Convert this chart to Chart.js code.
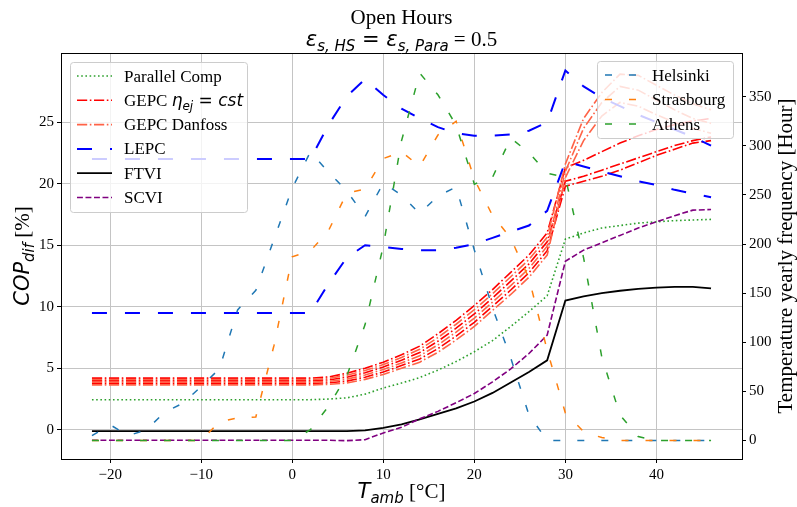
<!DOCTYPE html>
<html>
<head>
<meta charset="utf-8">
<script src="https://cdn.jsdelivr.net/npm/chart.js@4.4.0/dist/chart.umd.min.js"></script>
<style>
  body { margin: 0; background: #fff; }
  #wrap { width: 797px; height: 507px; }
</style>
</head>
<body>
<div id="wrap"><canvas id="chart" width="797" height="507"></canvas></div>
<script>
// ambient temperature samples [°C]
const temps = [-22,-20,-18,-16,-14,-12,-10,-8,-6,-4,-2,0,2,4,6,8,10,12,14,16,18,20,22,24,26,28,30,32,34,36,38,40,42,44,46];

// COP difference [%] (left axis)
const parallelComp = [2.45,2.45,2.45,2.45,2.45,2.45,2.45,2.45,2.45,2.45,2.45,2.45,2.45,2.5,2.6,2.9,3.4,3.8,4.25,4.85,5.55,6.35,7.25,8.4,9.6,10.9,15.5,16.0,16.4,16.6,16.8,16.9,17.0,17.05,17.1];
const gepcCst1 = [4.2,4.2,4.2,4.2,4.2,4.2,4.2,4.2,4.2,4.2,4.2,4.2,4.2,4.3,4.6,5.0,5.5,6.1,6.8,7.8,8.9,10.1,11.4,12.8,14.2,16.0,21.3,21.9,22.6,23.3,23.9,24.4,24.8,25.1,25.3];
const gepcCst2 = [3.98,3.98,3.98,3.98,3.98,3.98,3.98,3.98,3.98,3.98,3.98,3.98,3.98,4.06,4.28,4.64,5.1,5.66,6.28,7.2,8.26,9.42,10.72,12.08,13.48,15.28,20.2,20.6,21.1,21.6,22.1,22.6,23.1,23.5,23.8];
const gepcCst3 = [3.76,3.76,3.76,3.76,3.76,3.76,3.76,3.76,3.76,3.76,3.76,3.76,3.76,3.82,3.96,4.28,4.7,5.22,5.76,6.6,7.62,8.74,10.04,11.36,12.76,14.56,19.8,20.2,20.6,21.1,21.7,22.3,22.8,23.3,23.5];
const danfoss1 = [4.09,4.09,4.09,4.09,4.09,4.09,4.09,4.09,4.09,4.09,4.09,4.09,4.09,4.18,4.44,4.82,5.3,5.88,6.54,7.5,8.58,9.76,11.06,12.44,13.84,15.64,21.6,25.3,27.4,28.9,28.8,28.0,27.2,26.5,26.0];
const danfoss2 = [3.87,3.87,3.87,3.87,3.87,3.87,3.87,3.87,3.87,3.87,3.87,3.87,3.87,3.94,4.12,4.46,4.9,5.44,6.02,6.9,7.94,9.08,10.38,11.72,13.12,14.92,21.0,24.5,26.6,27.9,27.6,26.8,26.0,25.3,24.9];
const danfoss3 = [3.65,3.65,3.65,3.65,3.65,3.65,3.65,3.65,3.65,3.65,3.65,3.65,3.65,3.7,3.8,4.1,4.5,5.0,5.5,6.3,7.3,8.4,9.7,11.0,12.4,14.2,20.5,23.5,25.5,26.6,26.3,25.6,25.0,24.5,24.1];
const lepcUpper = [22,22,22,22,22,22,22,22,22,22,22,22,22,24.8,27.1,28.5,27.2,26.1,25.3,24.6,24.1,23.9,23.9,24.0,24.3,25.0,29.2,27.9,27.0,26.3,25.6,25.0,24.4,23.8,23.1];
const lepcLower = [9.5,9.5,9.5,9.5,9.5,9.5,9.5,9.5,9.5,9.5,9.5,9.5,9.5,11.9,14.0,15.0,14.85,14.7,14.6,14.6,14.8,15.1,15.6,16.1,16.6,17.8,21.8,21.4,21.0,20.6,20.2,19.9,19.5,19.2,18.9];
const ftvi = [-0.1,-0.1,-0.1,-0.1,-0.1,-0.1,-0.1,-0.1,-0.1,-0.1,-0.1,-0.1,-0.1,-0.1,-0.1,-0.05,0.15,0.45,0.85,1.3,1.75,2.3,3.0,3.85,4.7,5.65,10.5,10.85,11.1,11.3,11.45,11.55,11.62,11.62,11.5];
const scvi = [-0.85,-0.85,-0.85,-0.85,-0.85,-0.85,-0.85,-0.85,-0.85,-0.85,-0.85,-0.85,-0.85,-0.85,-0.88,-0.8,-0.25,0.2,0.9,1.5,2.2,2.95,3.9,4.95,6.2,7.7,13.7,14.6,15.2,15.8,16.4,16.9,17.4,17.85,17.9];

// temperature yearly frequency [hour] (right axis)
const helsinki = [5,16,5,11,29,38,55,73,133,153,205,257,294,273,254,228,262,250,231,249,258,194,135,84,26,0,0,0,0,0,0,0,0,0,0];
const strasbourg = [0,0,0,0,0,0,0,19,23,24,97,187,193,214,252,256,287,294,279,311,325,266,229,206,165,92,28,9,3,0,0,0,0,0,0];
const athens = [0,0,0,0,0,0,0,0,0,0,0,0,11,35,66,118,198,305,374,352,321,261,268,308,293,272,268,186,85,26,4,0,0,0,0];

// tick labels
const xTicks = [-20,-10,0,10,20,30,40];
const copTicks = [0,5,10,15,20,25];
const hourTicks = [0,50,100,150,200,250,300,350];

const SERIF = '"Liberation Serif", "Times New Roman", serif';
const SANS = '"DejaVu Sans", sans-serif';

const DOT = [1.6, 2.6];
const DASH = [5.9, 2.6];
const DASHDOT = [10.2, 2.6, 1.6, 2.6];
const LONGDASH = [15, 18];
const CITYDASH = [7, 17];

function line(label, vals, color, dash, axis, width) {
  return {
    label: label,
    data: temps.map((t, i) => ({ x: t, y: vals[i] })),
    yAxisID: axis,
    borderColor: color,
    borderDash: dash,
    borderWidth: width || 1.6,
    pointRadius: 0,
    fill: false,
    tension: 0
  };
}

const dsParallel = line('Parallel Comp', parallelComp, '#2ca02c', DOT, 'y');
const dsCst1 = line('GEPC cst', gepcCst1, '#ff0000', DASHDOT, 'y');
const dsCst2 = line('GEPC cst', gepcCst2, '#ff0000', DASHDOT, 'y');
const dsCst3 = line('GEPC cst', gepcCst3, '#ff0000', DASHDOT, 'y');
const dsDan1 = line('GEPC Danfoss', danfoss1, '#ff6347', DASHDOT, 'y');
const dsDan2 = line('GEPC Danfoss', danfoss2, '#ff6347', DASHDOT, 'y');
const dsDan3 = line('GEPC Danfoss', danfoss3, '#ff6347', DASHDOT, 'y');
const dsLepc1 = line('LEPC', lepcUpper, '#0000ff', LONGDASH, 'y', 2);
const dsLepc2 = line('LEPC', lepcLower, '#0000ff', LONGDASH, 'y', 2);
const dsFtvi = line('FTVI', ftvi, '#000000', [], 'y', 1.8);
const dsScvi = line('SCVI', scvi, '#800080', DASH, 'y');
const dsHel = line('Helsinki', helsinki, '#1f77b4', CITYDASH, 'y2', 1.5);
const dsStr = line('Strasbourg', strasbourg, '#ff7f0e', CITYDASH, 'y2', 1.5);
const dsAth = line('Athens', athens, '#2ca02c', CITYDASH, 'y2', 1.5);

const datasets = [dsParallel, dsCst1, dsCst2, dsCst3, dsDan1, dsDan2, dsDan3,
  dsLepc1, dsLepc2, dsFtvi, dsScvi, dsHel, dsStr, dsAth];
// later datasets on top, like matplotlib
datasets.forEach((d, i) => { d.order = -i; });

function fmt(v) { return v < 0 ? '\u2212' + Math.abs(v) : String(v); }

function drawRuns(ctx, runs, x, y, align) {
  let w = 0;
  const ws = runs.map(r => { ctx.font = r[1]; const m = ctx.measureText(r[0]).width; w += m; return m; });
  let cx = align === 'center' ? x - w / 2 : x;
  runs.forEach((r, i) => { ctx.font = r[1]; ctx.fillText(r[0], cx, y + (r[2] || 0)); cx += ws[i]; });
}

function drawLegend(ctx, box, items) {
  ctx.save();
  ctx.beginPath();
  if (ctx.roundRect) ctx.roundRect(box.x, box.y, box.w, box.h, 3);
  else ctx.rect(box.x, box.y, box.w, box.h);
  ctx.fillStyle = 'rgba(255,255,255,0.8)';
  ctx.fill();
  ctx.strokeStyle = '#cccccc';
  ctx.lineWidth = 1;
  ctx.stroke();
  items.forEach((it, i) => {
    const y = box.y0 + i * box.dy;
    ctx.setLineDash(it.ds.borderDash);
    ctx.strokeStyle = it.ds.borderColor;
    ctx.lineWidth = it.ds.borderWidth;
    ctx.beginPath();
    ctx.moveTo(box.hx0, y);
    ctx.lineTo(box.hx1, y);
    ctx.stroke();
    ctx.setLineDash([]);
    ctx.fillStyle = '#000';
    drawRuns(ctx, it.runs, box.tx, y + 5.5, 'left');
  });
  ctx.restore();
}

const decorations = {
  id: 'decorations',
  afterDraw(chart) {
    const ctx = chart.ctx, a = chart.chartArea;
    ctx.save();
    ctx.strokeStyle = '#000';
    ctx.lineWidth = 1;
    ctx.beginPath();
    ctx.moveTo(a.left, a.top + 0.5);
    ctx.lineTo(a.right, a.top + 0.5);
    ctx.stroke();

    ctx.fillStyle = '#000';
    ctx.textBaseline = 'alphabetic';
    const cx = (a.left + a.right) / 2;
    drawRuns(ctx, [['Open Hours', '21px ' + SERIF]], cx, 24, 'center');
    drawRuns(ctx, [
      ['\u03b5', 'italic 21px ' + SANS],
      ['s, HS', 'italic 15px ' + SANS, 4.5],
      [' = ', '21px ' + SANS],
      ['\u03b5', 'italic 21px ' + SANS],
      ['s, Para', 'italic 15px ' + SANS, 4.5],
      [' = 0.5', '21px ' + SERIF]
    ], cx, 46, 'center');

    drawRuns(ctx, [
      ['T', 'italic 21px ' + SANS],
      ['amb', 'italic 15px ' + SANS, 4.5],
      [' [\u00b0C]', '21px ' + SERIF]
    ], cx, 498, 'center');

    ctx.save();
    ctx.translate(29, (a.top + a.bottom) / 2);
    ctx.rotate(-Math.PI / 2);
    drawRuns(ctx, [
      ['COP', 'italic 21px ' + SANS],
      ['dif', 'italic 15px ' + SANS, 4.5],
      [' [%]', '21px ' + SERIF]
    ], 0, 0, 'center');
    ctx.restore();

    ctx.save();
    ctx.translate(792, (a.top + a.bottom) / 2);
    ctx.rotate(-Math.PI / 2);
    drawRuns(ctx, [['Temperature yearly frequency [Hour]', '21px ' + SERIF]], 0, 0, 'center');
    ctx.restore();

    const lf = '17px ' + SERIF;
    drawLegend(ctx, { x: 70.5, y: 62.5, w: 177, h: 150, y0: 76, dy: 24.3, hx0: 77, hx1: 112, tx: 124 }, [
      { ds: dsParallel, runs: [['Parallel Comp', lf]] },
      { ds: dsCst1, runs: [['GEPC ', lf], ['\u03b7', 'italic 17px ' + SANS], ['ej', 'italic 12px ' + SANS, 4], [' = ', '17px ' + SANS], ['cst', 'italic 17px ' + SANS]] },
      { ds: dsDan1, runs: [['GEPC Danfoss', lf]] },
      { ds: dsLepc1, runs: [['LEPC', lf]] },
      { ds: dsFtvi, runs: [['FTVI', lf]] },
      { ds: dsScvi, runs: [['SCVI', lf]] }
    ]);
    drawLegend(ctx, { x: 597.5, y: 61.5, w: 136, h: 77, y0: 75, dy: 24.5, hx0: 605, hx1: 638, tx: 652 }, [
      { ds: dsHel, runs: [['Helsinki', lf]] },
      { ds: dsStr, runs: [['Strasbourg', lf]] },
      { ds: dsAth, runs: [['Athens', lf]] }
    ]);
    ctx.restore();
  }
};

const tickFont = { family: SERIF, size: 15 };

new Chart(document.getElementById('chart'), {
  type: 'line',
  data: { datasets: datasets },
  plugins: [decorations],
  options: {
    responsive: false,
    animation: false,
    events: [],
    layout: { padding: { top: 53, left: 0, right: 0, bottom: 0 } },
    plugins: { legend: { display: false }, tooltip: { enabled: false } },
    scales: {
      x: {
        type: 'linear',
        min: -25.4,
        max: 49.4,
        afterBuildTicks: s => { s.ticks = xTicks.map(v => ({ value: v })); },
        afterFit: s => { s.height = 48; },
        ticks: { font: tickFont, color: '#000', padding: 3, maxRotation: 0, callback: v => fmt(v) },
        grid: { color: '#c4c4c4', lineWidth: 1, tickLength: 4, tickColor: '#000' },
        border: { display: true, color: '#000', width: 1 }
      },
      y: {
        type: 'linear',
        position: 'left',
        min: -2.37,
        max: 30.62,
        afterBuildTicks: s => { s.ticks = copTicks.map(v => ({ value: v })); },
        afterFit: s => { s.width = 61; },
        ticks: { font: tickFont, color: '#000', padding: 3, callback: v => fmt(v) },
        grid: { color: '#c4c4c4', lineWidth: 1, tickLength: 4, tickColor: '#000' },
        border: { display: true, color: '#000', width: 1 }
      },
      y2: {
        type: 'linear',
        position: 'right',
        min: -18.8,
        max: 394.5,
        afterBuildTicks: s => { s.ticks = hourTicks.map(v => ({ value: v })); },
        afterFit: s => { s.width = 55; },
        ticks: { font: tickFont, color: '#000', padding: 3, callback: v => fmt(v) },
        grid: { drawOnChartArea: false, color: '#000', lineWidth: 1, tickLength: 4, tickColor: '#000' },
        border: { display: true, color: '#000', width: 1 }
      }
    }
  }
});
</script>
</body>
</html>
